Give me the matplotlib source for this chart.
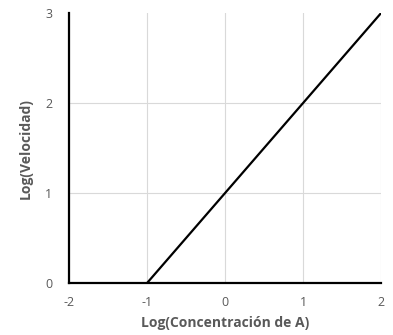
import matplotlib
matplotlib.use("Agg")
import matplotlib.pyplot as plt

plt.rcParams['font.family'] = ['Open Sans', 'DejaVu Sans']
plt.rcParams['axes.unicode_minus'] = False

# data
log_conc = [-1, 2]
log_vel = [0, 3]
x_ticks = [-2, -1, 0, 1, 2]
y_ticks = [0, 1, 2, 3]

fig = plt.figure(figsize=(3.93, 3.35), dpi=100)
ax = fig.add_axes([0.1756, 0.155, 0.794, 0.806])

ax.plot(log_conc, log_vel, color='black', lw=1.6, solid_capstyle='butt')
ax.set_xlim(-2, 2)
ax.set_ylim(0, 3)
ax.set_xticks(x_ticks)
ax.set_yticks(y_ticks)
ax.grid(True, color='#d9d9d9', lw=0.8)
ax.set_axisbelow(True)
ax.get_ygridlines()[-1].set_visible(False)

for s in ['top', 'right']:
    ax.spines[s].set_visible(False)
for s in ['left', 'bottom']:
    ax.spines[s].set_color('black')
    ax.spines[s].set_linewidth(1.6)

ax.tick_params(length=0, labelsize=9, labelcolor='#595959', pad=9)
ax.tick_params(axis='y', pad=12)
ax.set_xlabel('Log(Concentración de A)', fontsize=10, fontweight='bold', color='#595959', labelpad=5)
ax.set_ylabel('Log(Velocidad)', fontsize=10, fontweight='bold', color='#595959', labelpad=9)

fig.savefig('out.png', dpi=100)
